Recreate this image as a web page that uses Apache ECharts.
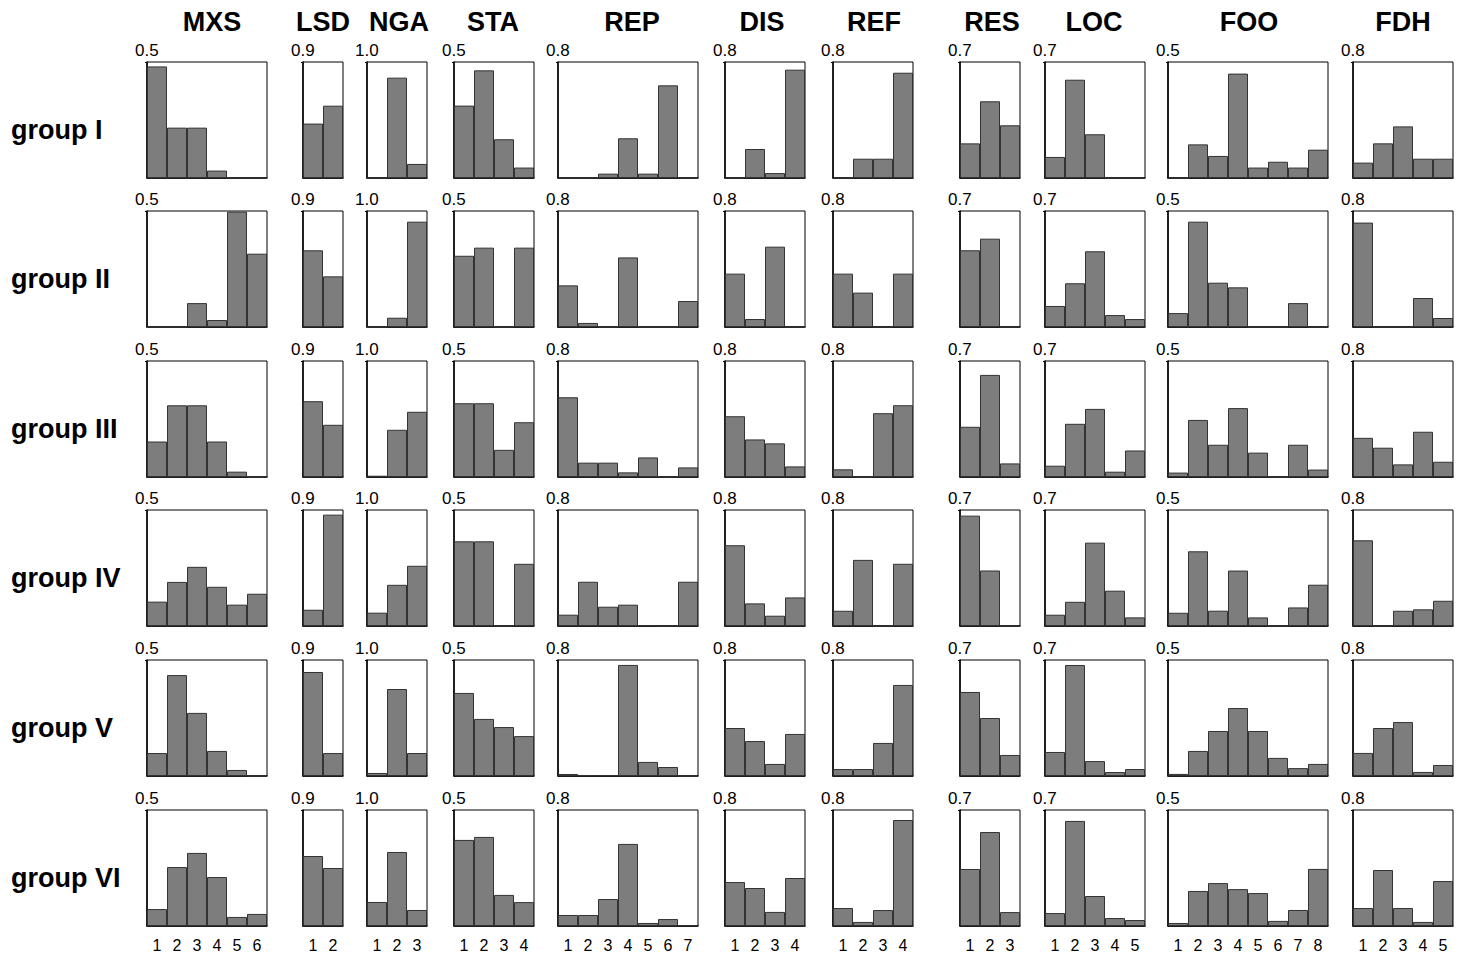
<!DOCTYPE html>
<html>
<head>
<meta charset="utf-8">
<script src="https://cdn.jsdelivr.net/npm/echarts@6/dist/echarts.min.js"></script>
<style>
  html, body { margin: 0; padding: 0; background: #ffffff; }
  #chart { width: 1467px; height: 959px; }
</style>
</head>
<body>
<div id="chart"></div>
<script>
// Variables (columns) and their category levels
const variables = ['MXS', 'LSD', 'NGA', 'STA', 'REP', 'DIS', 'REF', 'RES', 'LOC', 'FOO', 'FDH'];
const levelLabels = [
  ['1', '2', '3', '4', '5', '6'],
  ['1', '2'],
  ['1', '2', '3'],
  ['1', '2', '3', '4'],
  ['1', '2', '3', '4', '5', '6', '7'],
  ['1', '2', '3', '4'],
  ['1', '2', '3', '4'],
  ['1', '2', '3'],
  ['1', '2', '3', '4', '5'],
  ['1', '2', '3', '4', '5', '6', '7', '8'],
  ['1', '2', '3', '4', '5']
];
// Upper limit of each column's value axis
const axisMax = [0.5, 0.9, 1.0, 0.5, 0.8, 0.8, 0.8, 0.7, 0.7, 0.5, 0.8];

// Groups (rows)
const groups = ['group I', 'group II', 'group III', 'group IV', 'group V', 'group VI'];

// Proportions per group, one inner array per variable (same order as `variables`)
const groupI = [
  [0.481, 0.217, 0.217, 0.032, 0, 0],
  [0.422, 0.561],
  [0, 0.865, 0.121],
  [0.312, 0.464, 0.167, 0.045],
  [0, 0, 0.030, 0.274, 0.030, 0.639, 0],
  [0, 0.200, 0.034, 0.747],
  [0, 0.133, 0.133, 0.726],
  [0.209, 0.463, 0.318],
  [0.127, 0.593, 0.264, 0, 0],
  [0, 0.145, 0.095, 0.450, 0.045, 0.070, 0.045, 0.122],
  [0.106, 0.239, 0.356, 0.133, 0.133]
];
const groupII = [
  [0, 0, 0.103, 0.030, 0.497, 0.316],
  [0.595, 0.393],
  [0, 0.080, 0.908],
  [0.307, 0.342, 0, 0.342],
  [0.287, 0.028, 0, 0.480, 0, 0, 0.179],
  [0.368, 0.055, 0.554, 0],
  [0.368, 0.237, 0, 0.368],
  [0.463, 0.533, 0],
  [0.127, 0.264, 0.457, 0.072, 0.048],
  [0.060, 0.454, 0.191, 0.171, 0, 0, 0.103, 0],
  [0.720, 0, 0, 0.200, 0.062]
];
const groupIII = [
  [0.153, 0.309, 0.309, 0.153, 0.023, 0],
  [0.588, 0.405],
  [0.011, 0.407, 0.562],
  [0.318, 0.318, 0.117, 0.236],
  [0.550, 0.099, 0.099, 0.032, 0.135, 0, 0.066],
  [0.419, 0.259, 0.232, 0.073],
  [0.053, 0, 0.440, 0.495],
  [0.303, 0.616, 0.082],
  [0.068, 0.321, 0.411, 0.032, 0.160],
  [0.019, 0.246, 0.139, 0.297, 0.105, 0, 0.139, 0.032],
  [0.270, 0.202, 0.087, 0.312, 0.105]
];
const groupIV = [
  [0.105, 0.190, 0.255, 0.169, 0.092, 0.139],
  [0.126, 0.864],
  [0.115, 0.355, 0.519],
  [0.365, 0.365, 0, 0.268],
  [0.078, 0.305, 0.133, 0.147, 0.005, 0, 0.305],
  [0.557, 0.156, 0.071, 0.197],
  [0.105, 0.456, 0, 0.429],
  [0.666, 0.335, 0],
  [0.068, 0.146, 0.503, 0.213, 0.052],
  [0.057, 0.322, 0.066, 0.239, 0.037, 0, 0.080, 0.178],
  [0.591, 0, 0.105, 0.115, 0.174]
];
const groupV = [
  [0.099, 0.435, 0.272, 0.108, 0.026, 0],
  [0.807, 0.178],
  [0.026, 0.750, 0.198],
  [0.358, 0.246, 0.211, 0.172],
  [0.014, 0.007, 0.007, 0.766, 0.097, 0.062, 0],
  [0.331, 0.241, 0.083, 0.290],
  [0.048, 0.048, 0.228, 0.628],
  [0.507, 0.350, 0.127],
  [0.145, 0.670, 0.090, 0.024, 0.042],
  [0.009, 0.108, 0.194, 0.293, 0.194, 0.078, 0.034, 0.052],
  [0.159, 0.331, 0.372, 0.028, 0.076]
];
const groupVI = [
  [0.073, 0.254, 0.315, 0.211, 0.039, 0.052],
  [0.543, 0.450],
  [0.207, 0.638, 0.138],
  [0.371, 0.384, 0.134, 0.103],
  [0.076, 0.076, 0.186, 0.566, 0.021, 0.048, 0.007],
  [0.303, 0.262, 0.097, 0.331],
  [0.124, 0.028, 0.110, 0.731],
  [0.344, 0.567, 0.084],
  [0.078, 0.634, 0.181, 0.048, 0.036],
  [0.013, 0.151, 0.185, 0.159, 0.142, 0.022, 0.069, 0.246],
  [0.124, 0.386, 0.124, 0.028, 0.310]
];
const groupData = [groupI, groupII, groupIII, groupIV, groupV, groupVI];

// Panel layout (pixels)
const colLeft = [147, 303, 367, 454, 558, 725, 833, 960, 1045, 1168, 1353];
const headerShift = [5, 0, 2, -1, 4, -3, 1, 2, -1, 1, 0];
const barSlot = 20;
const rowTop = [62, 211, 361, 510, 660, 810];
const panelHeight = 116;

const FONT = '"Liberation Sans", Arial, Helvetica, sans-serif';

const grid = [], xAxis = [], yAxis = [], series = [], graphic = [];

groups.forEach((g, r) => {
  variables.forEach((v, c) => {
    const idx = grid.length;
    const width = levelLabels[c].length * barSlot;
    grid.push({
      left: colLeft[c], top: rowTop[r], width: width, height: panelHeight,
      show: true, borderColor: '#000', borderWidth: 1, backgroundColor: 'transparent'
    });
    xAxis.push({
      gridIndex: idx, type: 'category', data: levelLabels[c], boundaryGap: true,
      axisTick: { show: false },
      axisLine: { show: true, lineStyle: { color: '#000', width: 1.5 } },
      axisLabel: { show: r === groups.length - 1, fontSize: 16, color: '#000', margin: 11, fontFamily: FONT, interval: 0 },
      splitLine: { show: false }
    });
    yAxis.push({
      gridIndex: idx, type: 'value', min: 0, max: axisMax[c], interval: axisMax[c],
      splitLine: { show: false },
      axisLine: { show: true, lineStyle: { color: '#000', width: 1.5 } },
      axisTick: { show: true, length: 2, lineStyle: { color: '#000' } },
      axisLabel: {
        show: true, showMinLabel: false,
        formatter: val => (val === 0 ? '' : val.toFixed(1)),
        align: 'left', verticalAlign: 'bottom', margin: 12,
        fontSize: 17, color: '#000', fontFamily: FONT, padding: [0, 0, 3, 0]
      }
    });
    series.push({
      type: 'bar', xAxisIndex: idx, yAxisIndex: idx,
      data: groupData[r][c],
      barCategoryGap: '0%', barGap: '0%',
      itemStyle: { color: '#7d7d7d', borderColor: '#333', borderWidth: 1 },
      silent: true
    });
  });
  // Row label
  graphic.push({
    type: 'text', left: 11, top: rowTop[r] + 54,
    style: { text: g, fontSize: 27, fontWeight: 'bold', fill: '#000', fontFamily: FONT }
  });
});

// Column headers
variables.forEach((v, c) => {
  const width = levelLabels[c].length * barSlot;
  graphic.push({
    type: 'text', x: colLeft[c] + width / 2 + headerShift[c], y: 22,
    style: { text: v, fontSize: 27, fontWeight: 'bold', fill: '#000', fontFamily: FONT,
             align: 'center', verticalAlign: 'middle' }
  });
});

const chart = echarts.init(document.getElementById('chart'), null, { renderer: 'svg' });
chart.setOption({
  animation: false,
  backgroundColor: '#fff',
  grid, xAxis, yAxis, series, graphic
});
</script>
</body>
</html>
